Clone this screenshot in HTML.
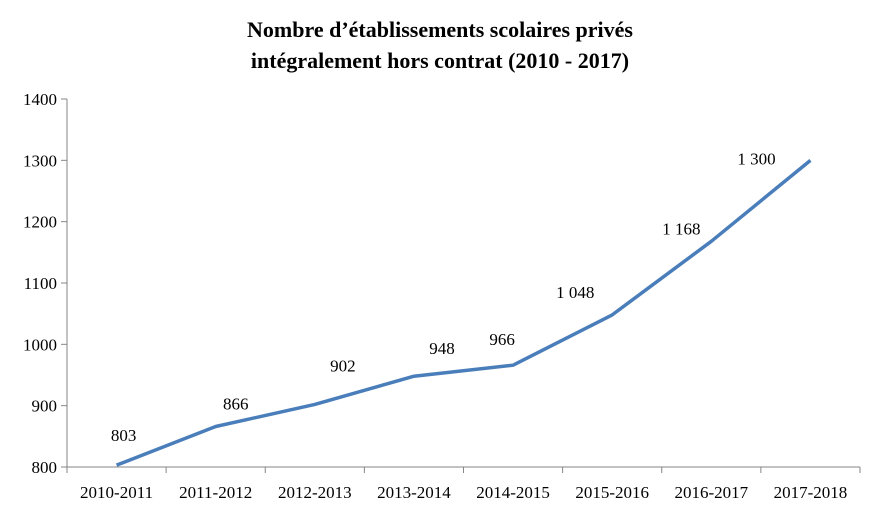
<!DOCTYPE html>
<html><head><meta charset="utf-8"><style>
html,body{margin:0;padding:0;background:#fff;}
svg{display:block;font-family:"Liberation Serif",serif;}
</style></head><body>
<svg id="chart" width="886" height="517" viewBox="0 0 886 517">
<text x="440" y="37" text-anchor="middle" font-size="22" font-weight="bold">Nombre d’établissements scolaires privés</text>
<text x="440" y="68" text-anchor="middle" font-size="22" font-weight="bold">intégralement hors contrat (2010 - 2017)</text>
<g id="axes"></g><g id="series"></g>
</svg>
<script>
const categories=["2010-2011","2011-2012","2012-2013","2013-2014","2014-2015","2015-2016","2016-2017","2017-2018"];
const values=[803,866,902,948,966,1048,1168,1300];
const valueLabels=["803","866","902","948","966","1 048","1 168","1 300"];
const yTicks=[800,900,1000,1100,1200,1300,1400];
// label offsets (styling, in px)
const ldx=[7,20,28,28,-11,-37,-30,-54];
const ldy=[-24,-17,-33,-22,-20,-17,-7,4];
const NS="http://www.w3.org/2000/svg";
const L=67,R=860,T=99,B=467,ymin=800,ymax=1400;
const bw=(R-L)/categories.length;
const x=i=>L+bw*(i+0.5);
const y=v=>B-(v-ymin)/(ymax-ymin)*(B-T);
function mk(tag,attrs,parent,text){const e=document.createElementNS(NS,tag);for(const k in attrs)e.setAttribute(k,attrs[k]);if(text!==undefined)e.textContent=text;parent.appendChild(e);return e;}
const ax=document.getElementById('axes'),se=document.getElementById('series');
let e=mk('line',{x1:L,y1:T,x2:L,y2:B,stroke:'#868686','stroke-width':1},ax);


e=mk('line',{x1:L,y1:B,x2:R,y2:B,stroke:'#868686','stroke-width':1},ax);


yTicks.forEach(v=>{
  mk('line',{x1:L-6,y1:y(v),x2:L,y2:y(v),stroke:'#868686'},ax);
  const t=mk('text',{x:L-10,y:y(v)+6,'text-anchor':'end','font-size':17},ax,String(v));
  
  
});
for(let i=0;i<=categories.length;i++){mk('line',{x1:L+bw*i,y1:B,x2:L+bw*i,y2:B+6,stroke:'#868686'},ax);}
categories.forEach((c,i)=>{
  const t=mk('text',{x:x(i),y:B+31,'text-anchor':'middle','font-size':17},ax,c);
  
  
});
const p=mk('polyline',{points:values.map((v,i)=>x(i)+','+y(v)).join(' '),fill:'none',stroke:'#4a7ebb','stroke-width':3.5,'stroke-linejoin':'round'},se);


values.forEach((v,i)=>{
  const t=mk('text',{x:x(i)+ldx[i],y:y(v)+ldy[i],'text-anchor':'middle','font-size':17},se,valueLabels[i]);
  
  
});
</script>
</body></html>
